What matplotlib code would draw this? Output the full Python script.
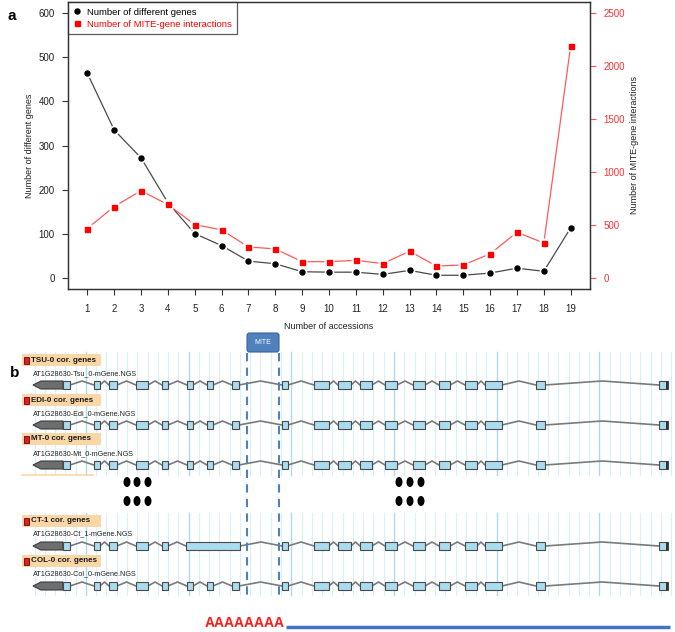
import matplotlib
matplotlib.use('Agg')
import matplotlib.pyplot as plt
from matplotlib.lines import Line2D
from matplotlib.patches import Rectangle, Polygon, Ellipse, FancyBboxPatch

plt.rcParams['font.family'] = ['Liberation Sans', 'DejaVu Sans']

# ---- panel a data ----
accessions = list(range(1, 20))
different_genes = [463, 335, 272, 171, 101, 74, 39, 33, 15, 14, 14, 9, 18, 7, 7, 12, 23, 16, 114]
mite_interactions = [469, 676, 824, 695, 506, 456, 296, 277, 157, 157, 170, 139, 255, 116, 126, 230, 434, 333, 2188]

# ---- panel b data (browser coordinates) ----
tracks = ['TSU-0', 'EDI-0', 'MT-0', 'CT-1', 'COL-0']
models = ['AT1G28630-Tsu_0-mGene.NGS', 'AT1G28630-Edi_0-mGene.NGS', 'AT1G28630-Mt_0-mGene.NGS',
          'AT1G28630-Ct_1-mGene.NGS', 'AT1G28630-Col_0-mGene.NGS']
utr_start, utr_end = 33, 63
exon_starts = [63, 94, 109, 136, 162, 187, 207, 232, 282, 314, 338, 360, 385, 413, 439, 465, 485, 536, 659]
exon_ends = [70, 100, 117, 148, 168, 193, 213, 239, 288, 329, 351, 372, 397, 425, 450, 477, 502, 545, 668]
# CT-1 retains the two introns around the MITE region
ct_starts = [63, 94, 109, 136, 162, 186, 282, 314, 338, 360, 385, 413, 439, 465, 485, 536, 659]
ct_ends = [70, 100, 117, 148, 168, 240, 288, 329, 351, 372, 397, 425, 450, 477, 502, 545, 668]
mite_start, mite_end = 247, 279

fig = plt.figure(figsize=(6.75, 6.32), dpi=100)
W, H = 675, 632

# ================= panel a =================
ax = fig.add_axes([68 / W, 1 - 289 / H, 522 / W, 287 / H])
ax2 = ax.twinx()

gray_line = '#4a4a4a'
red_line = '#ff5a5a'

ax.plot(accessions, different_genes, color=gray_line, lw=0.9, zorder=2)
ax.plot(accessions, different_genes, ls='none', marker='o', ms=7, mfc='white', mec='none', zorder=3)
ax.plot(accessions, different_genes, ls='none', marker='o', ms=3.6, color='black', zorder=4)

ax2.plot(accessions, mite_interactions, color=red_line, lw=0.9, zorder=2)
ax2.plot(accessions, mite_interactions, ls='none', marker='s', ms=7, mfc='white', mec='none', zorder=3)
ax2.plot(accessions, mite_interactions, ls='none', marker='s', ms=3.6, color='#ff0000', zorder=4)

ax.set_xlim(0.28, 19.72)
ax.set_ylim(-24, 624)
ax2.set_ylim(-100, 2600)
ax.set_xticks(accessions)
ax.set_yticks([0, 100, 200, 300, 400, 500, 600])
ax2.set_yticks([0, 500, 1000, 1500, 2000, 2500])

for a in (ax, ax2):
    for sp in a.spines.values():
        sp.set_color('#333333')
        sp.set_linewidth(0.9)

ax.tick_params(axis='both', labelsize=7, length=4.5, width=0.8, color='#333333', labelcolor='#222222', pad=5)
ax.tick_params(axis='x', pad=6)
ax2.tick_params(axis='y', labelsize=7, length=4.5, width=0.8, color='#ff5050', labelcolor='#ff3030', pad=5)

ax.set_xlabel('Number of accessions', fontsize=6.5, labelpad=6, color='#222222')
ax.set_ylabel('Number of different genes', fontsize=6.5, labelpad=3, color='#222222')
ax2.set_ylabel('Number of MITE-gene interactions', fontsize=6.5, labelpad=4, color='#222222')

handles = [Line2D([], [], ls='none', marker='o', ms=3.6, color='black'),
           Line2D([], [], ls='none', marker='s', ms=3.6, color='#ff0000')]
leg = ax.legend(handles, ['Number of different genes', 'Number of MITE-gene interactions'],
                loc='upper left', fontsize=6.8, frameon=True, fancybox=False, borderaxespad=0,
                handlelength=0.8, handletextpad=0.6, borderpad=0.6, labelspacing=0.3)
leg.get_frame().set_edgecolor('#333333')
leg.get_frame().set_linewidth(0.9)
leg.get_texts()[1].set_color('#ff0000')
leg.set_zorder(10)

fig.text(8 / W, 1 - 16 / H, 'a', fontsize=11, fontweight='bold', va='center')

# ================= panel b =================
bx = fig.add_axes([0, 0, 1, (H - 325) / H])
bx.set_xlim(0, W)
bx.set_ylim(H, 325)
bx.axis('off')
bx.patch.set_alpha(0)

fig.text(10 / W, 1 - 373 / H, 'b', fontsize=11, fontweight='bold', va='center')

# light grid lines of the browser
for y0, y1 in [(352, 475), (513, 595)]:
    for k in range(-5, 58):
        xg = 85.9 + k * 10.27
        dark = (k % 10 == 0)
        bx.plot([xg, xg], [y0, y1], color='#a9dcee' if dark else '#d6f1f8',
                lw=1.0 if dark else 0.8, zorder=1)

bx.plot([22, 93], [475, 475], color='#fbd7a8', lw=1.2, zorder=2)

label_y = [360, 400, 439, 521, 561]
model_y = [374, 414, 454, 534, 574]
gene_y = [385, 425, 465, 546, 586]

for i, name in enumerate(tracks):
    ly = label_y[i]
    bx.text(31, ly, name + ' cor. genes', fontsize=5.8, fontweight='bold',
            va='center', ha='left', color='#1a1a1a', zorder=5)
    bx.add_patch(Rectangle((22, ly - 6), 79, 12, facecolor='#fbd7a8', edgecolor='none', zorder=4))
    bx.add_patch(Rectangle((23.5, ly - 3.5), 5, 7, facecolor='#e02020', edgecolor='#6b0000', lw=0.6, zorder=5))
    bx.text(33, model_y[i], models[i], fontsize=5.2, va='center', ha='left',
            color='#222222', zorder=5)

    yc = gene_y[i]
    starts = ct_starts if name == 'CT-1' else exon_starts
    ends = ct_ends if name == 'CT-1' else exon_ends
    # introns
    for e_prev, s_next in zip(ends[:-1], starts[1:]):
        mid = (e_prev + s_next) / 2
        bx.plot([e_prev, mid, s_next], [yc, yc - 4, yc], color='#7a7a7a', lw=1.2, zorder=3)
    # 5' arrow (UTR)
    bx.add_patch(Polygon([(utr_start, yc), (utr_start + 8, yc - 4), (utr_end, yc - 4),
                          (utr_end, yc + 4), (utr_start + 8, yc + 4)],
                         closed=True, facecolor='#6e6e6e', edgecolor='#3c3c3c', lw=0.8, zorder=4))
    # exons
    for s, e in zip(starts, ends):
        bx.add_patch(Rectangle((s, yc - 4), e - s, 8, facecolor='#a9dcef', edgecolor='#4a4a4a',
                               lw=0.8, zorder=4))
    bx.add_patch(Rectangle((ends[-1] - 2.5, yc - 4), 2.5, 8, facecolor='#333333', edgecolor='none', zorder=5))

# MITE insertion
bx.add_patch(FancyBboxPatch((mite_start, 333), mite_end - mite_start, 19,
                            boxstyle='round,pad=0,rounding_size=2.5',
                            facecolor='#4f81bd', edgecolor='#3a62a0', lw=0.8, zorder=6))
bx.text((mite_start + mite_end) / 2, 342.5, 'MITE', fontsize=5, color='white',
        ha='center', va='center', zorder=7)
for xm in (mite_start, mite_end):
    bx.plot([xm, xm], [353, 596], color='#4f81bd', lw=1.5, ls=(0, (4, 3)), zorder=6)

# ellipsis dots between tracks
for xc in (127, 137, 148, 399, 410, 421):
    for yc in (482, 501):
        bx.add_patch(Ellipse((xc, yc), 7, 10, facecolor='black', edgecolor='none', zorder=5))

# poly-A tail and transcript
bx.text(205, 623, 'AAAAAAAA', fontsize=10, fontweight='bold', color='#ff1a1a',
        ha='left', va='center')
bx.plot([286, 670], [627, 627], color='#4472c4', lw=2.5, solid_capstyle='butt')

fig.savefig('out.png', dpi=100)
